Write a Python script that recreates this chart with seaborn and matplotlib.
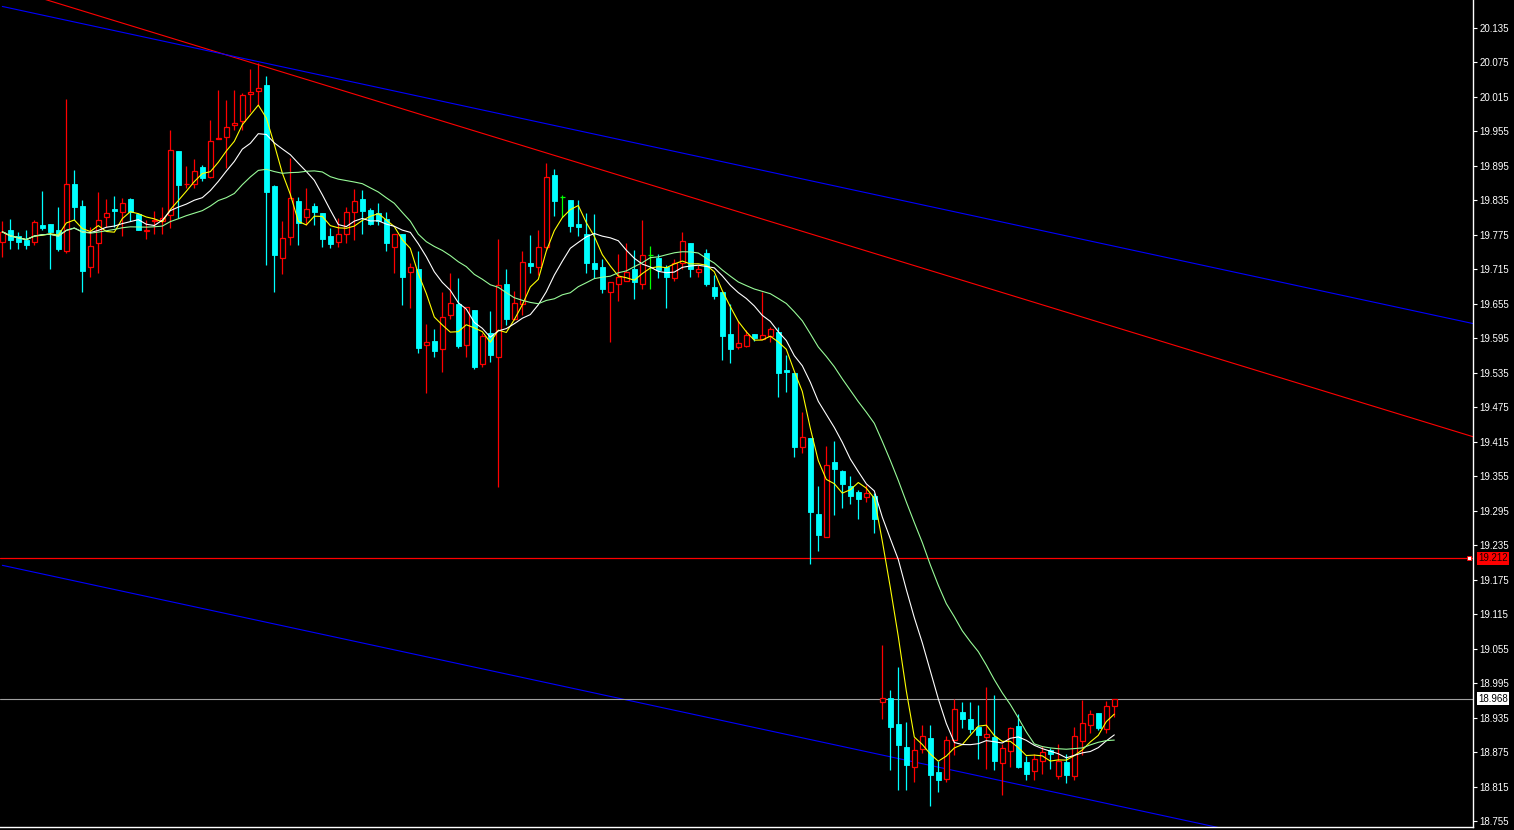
import numpy as np
import pandas as pd
import seaborn as sns
import matplotlib.pyplot as plt

# OHLC, one entry per candle (left to right)
opens = [19.762, 19.784, 19.773, 19.766, 19.762, 19.792, 19.793, 19.784, 19.747, 19.864,
         19.825, 19.718, 19.760, 19.805, 19.819, 19.815, 19.837, 19.811, 19.781, 19.799,
         19.798, 19.809, 19.920, 19.863, 19.864, 19.892, 19.876, 19.941, 19.945, 19.965,
         19.972, 20.019, 20.025, 20.035, 19.859, 19.734, 19.771, 19.834, 19.805, 19.825,
         19.812, 19.773, 19.762, 19.777, 19.815, 19.837, 19.818, 19.812, 19.802, 19.754,
         19.776, 19.710, 19.715, 19.583, 19.590, 19.576, 19.635, 19.655, 19.584, 19.644,
         19.551, 19.604, 19.563, 19.689, 19.628, 19.655, 19.725, 19.719, 19.754, 19.879,
         19.840, 19.835, 19.794, 19.776, 19.726, 19.719, 19.676, 19.689, 19.695, 19.715,
         19.690, 19.740, 19.734, 19.719, 19.699, 19.725, 19.760, 19.710, 19.744, 19.684,
         19.675, 19.602, 19.579, 19.581, 19.602, 19.594, 19.598, 19.606, 19.540, 19.534,
         19.405, 19.421, 19.289, 19.249, 19.380, 19.364, 19.338, 19.328, 19.318, 19.321,
         18.962, 18.969, 18.924, 18.884, 18.850, 18.880, 18.899, 18.841, 18.828, 18.897,
         18.945, 18.932, 18.918, 18.902, 18.902, 18.857, 18.877, 18.921, 18.858, 18.842,
         18.859, 18.878, 18.834, 18.858, 18.834, 18.895, 18.922, 18.944, 18.916, 18.955]
highs = [19.798, 19.802, 19.779, 19.784, 19.801, 19.851, 19.793, 19.823, 20.011, 19.888,
         19.835, 19.789, 19.849, 19.837, 19.842, 19.838, 19.838, 19.812, 19.801, 19.817,
         19.823, 19.957, 19.920, 19.895, 19.907, 19.897, 19.975, 20.027, 20.009, 20.027,
         20.022, 20.063, 20.073, 20.051, 19.862, 19.798, 19.909, 19.841, 19.857, 19.830,
         19.812, 19.786, 19.804, 19.824, 19.854, 19.853, 19.821, 19.830, 19.815, 19.777,
         19.777, 19.726, 19.747, 19.620, 19.611, 19.676, 19.708, 19.700, 19.650, 19.644,
         19.604, 19.642, 19.767, 19.715, 19.677, 19.747, 19.775, 19.783, 19.899, 19.890,
         19.844, 19.835, 19.835, 19.812, 19.811, 19.733, 19.693, 19.741, 19.760, 19.748,
         19.801, 19.755, 19.741, 19.722, 19.733, 19.780, 19.760, 19.722, 19.750, 19.705,
         19.676, 19.655, 19.625, 19.609, 19.602, 19.676, 19.615, 19.615, 19.566, 19.534,
         19.466, 19.422, 19.338, 19.408, 19.416, 19.365, 19.356, 19.331, 19.340, 19.325,
         19.062, 18.983, 19.023, 18.928, 18.900, 18.922, 18.922, 18.860, 18.903, 18.968,
         18.963, 18.963, 18.957, 18.988, 18.975, 18.889, 18.918, 18.941, 18.868, 18.871,
         18.886, 18.883, 18.889, 18.872, 18.918, 18.965, 18.949, 18.944, 18.964, 18.968]
lows = [19.737, 19.750, 19.750, 19.750, 19.757, 19.784, 19.716, 19.746, 19.744, 19.801,
        19.675, 19.702, 19.708, 19.789, 19.789, 19.773, 19.799, 19.784, 19.768, 19.777,
        19.777, 19.786, 19.804, 19.856, 19.856, 19.869, 19.873, 19.941, 19.891, 19.957,
        19.957, 19.989, 20.001, 19.722, 19.676, 19.707, 19.757, 19.757, 19.792, 19.792,
        19.754, 19.752, 19.754, 19.760, 19.765, 19.776, 19.792, 19.792, 19.747, 19.708,
        19.653, 19.648, 19.570, 19.499, 19.563, 19.537, 19.628, 19.578, 19.563, 19.541,
        19.545, 19.554, 19.336, 19.618, 19.627, 19.635, 19.709, 19.705, 19.751, 19.808,
        19.806, 19.779, 19.772, 19.709, 19.699, 19.673, 19.589, 19.660, 19.695, 19.663,
        19.680, 19.681, 19.699, 19.647, 19.695, 19.715, 19.702, 19.701, 19.686, 19.663,
        19.557, 19.552, 19.576, 19.580, 19.591, 19.593, 19.589, 19.493, 19.502, 19.389,
        19.396, 19.202, 19.225, 19.249, 19.288, 19.299, 19.307, 19.280, 19.311, 19.256,
        18.932, 18.844, 18.809, 18.809, 18.824, 18.873, 18.782, 18.805, 18.824, 18.870,
        18.917, 18.908, 18.863, 18.845, 18.844, 18.801, 18.849, 18.847, 18.826, 18.827,
        18.837, 18.846, 18.828, 18.822, 18.826, 18.870, 18.908, 18.914, 18.908, 18.937]
closes = [19.780, 19.766, 19.763, 19.757, 19.797, 19.787, 19.780, 19.750, 19.863, 19.823,
          19.712, 19.755, 19.801, 19.812, 19.817, 19.830, 19.815, 19.784, 19.783, 19.801,
          19.804, 19.922, 19.862, 19.864, 19.885, 19.874, 19.938, 19.944, 19.962, 19.969,
          20.018, 20.023, 20.030, 19.850, 19.739, 19.769, 19.838, 19.795, 19.819, 19.815,
          19.767, 19.758, 19.776, 19.815, 19.834, 19.816, 19.794, 19.799, 19.760, 19.777,
          19.701, 19.719, 19.578, 19.589, 19.572, 19.632, 19.657, 19.582, 19.649, 19.545,
          19.599, 19.565, 19.687, 19.629, 19.657, 19.727, 19.721, 19.753, 19.875, 19.834,
          19.840, 19.791, 19.789, 19.726, 19.715, 19.681, 19.692, 19.702, 19.711, 19.693,
          19.739, 19.740, 19.714, 19.702, 19.726, 19.764, 19.715, 19.715, 19.690, 19.669,
          19.599, 19.577, 19.586, 19.600, 19.596, 19.600, 19.611, 19.535, 19.537, 19.405,
          19.424, 19.292, 19.252, 19.374, 19.368, 19.342, 19.321, 19.315, 19.325, 19.281,
          18.969, 18.918, 18.888, 18.853, 18.879, 18.904, 18.835, 18.826, 18.897, 18.950,
          18.933, 18.916, 18.905, 18.906, 18.860, 18.882, 18.917, 18.850, 18.837, 18.864,
          18.875, 18.872, 18.860, 18.835, 18.903, 18.925, 18.941, 18.917, 18.955, 18.968]

ma_periods = [5, 10, 20]
ma_colors = ['#ffff00', '#ffffff', '#98fb98']

level_red = 19.212
level_bid = 18.968

price_ticks = [20.135, 20.075, 20.015, 19.955, 19.895, 19.835, 19.775, 19.715, 19.655,
               19.595, 19.535, 19.475, 19.415, 19.355, 19.295, 19.235, 19.175, 19.115,
               19.055, 18.995, 18.935, 18.875, 18.815, 18.755]

# trend lines: (bar index, price) at both ends
trend_red = [(0, 20.207), (184, 19.423)]
trend_blue_top = [(0, 20.172), (184, 19.620)]
trend_blue_low = [(0, 19.200), (184, 18.648)]

UP, DOWN, DOJI = '#ff0000', '#00ffff', '#00ff00'

sns.set_theme(style='dark', rc={'axes.facecolor': 'black', 'figure.facecolor': 'black'})
plt.rcParams['font.family'] = ['Liberation Sans', 'DejaVu Sans']

df = pd.DataFrame({'open': opens, 'high': highs, 'low': lows, 'close': closes})
df['bar'] = np.arange(len(df))

fig = plt.figure(figsize=(15.14, 8.30), dpi=100)
ax = fig.add_axes([0, 3 / 830, 1473 / 1514, 827 / 830])

# trend lines
for (x0, y0), (x1, y1), c in [(trend_red[0], trend_red[1], '#ff0000'),
                               (trend_blue_top[0], trend_blue_top[1], '#0000ff'),
                               (trend_blue_low[0], trend_blue_low[1], '#0000ff')]:
    ax.plot([x0, x1], [y0, y1], color=c, lw=0.8, zorder=1)

ax.axhline(level_red, color='#ff0000', lw=0.9, zorder=1)
ax.axhline(level_bid, color='#a0a0a0', lw=0.8, zorder=1)

# candles
wick_col = np.where(df.close > df.open, UP, np.where(df.close < df.open, DOWN, DOJI))
ax.vlines(df.bar, df.low, df.high, colors=wick_col, lw=0.9, zorder=2)

up = df[df.close > df.open]
down = df[df.close < df.open]
flat = df[df.close == df.open]
w = 0.58
ax.bar(up.bar, up.close - up.open, bottom=up.open, width=w,
       facecolor='black', edgecolor=UP, lw=0.9, zorder=3)
ax.bar(down.bar, down.open - down.close, bottom=down.close, width=w,
       facecolor=DOWN, edgecolor=DOWN, lw=0.6, zorder=3)
ax.hlines(flat.close, flat.bar - w / 2, flat.bar + w / 2, colors=DOJI, lw=0.9, zorder=3)

# moving averages
for p, c in zip(ma_periods, ma_colors):
    df[f'ma{p}'] = df.close.rolling(p, min_periods=1).mean()
    sns.lineplot(data=df, x='bar', y=f'ma{p}', color=c, lw=0.8, ax=ax, zorder=4)

ax.set_xlim(-0.29, 183.84)
ax.set_ylim(18.7449, 20.1832)

ax.yaxis.tick_right()
ax.set_yticks(price_ticks)
ax.set_yticklabels([f'{t:.3f}' for t in price_ticks])
ax.tick_params(axis='y', colors='white', labelsize=7, length=3, width=0.8, pad=1.5,
               direction='out')
ax.set_xticks(np.arange(5, 184, 8))
ax.set_xticklabels([])
ax.tick_params(axis='x', colors='white', length=3, width=0.8, direction='out')
ax.set_xlabel('')
ax.set_ylabel('')
ax.grid(False)

for s in ['top', 'left']:
    ax.spines[s].set_visible(False)
for s in ['right', 'bottom']:
    ax.spines[s].set_visible(True)
    ax.spines[s].set_color('white')
    ax.spines[s].set_linewidth(1)

# price tags on the right scale
tr = ax.get_yaxis_transform()
ax.text(1.0035, level_red, f'{level_red:.3f}', transform=tr, ha='left', va='center',
        fontsize=7, color='#1a0000', clip_on=False,
        bbox=dict(boxstyle='square,pad=0.15', facecolor='#ff0000', edgecolor='none'))
ax.text(1.0035, level_bid, f'{level_bid:.3f}', transform=tr, ha='left', va='center',
        fontsize=7, color='black', clip_on=False,
        bbox=dict(boxstyle='square,pad=0.15', facecolor='white', edgecolor='none'))
ax.plot([183.3], [level_red], marker='s', ms=3, mfc='white', mec='#ff0000', mew=0.6,
        zorder=5, clip_on=False)

fig.savefig('out.png', dpi=100, facecolor='black')
